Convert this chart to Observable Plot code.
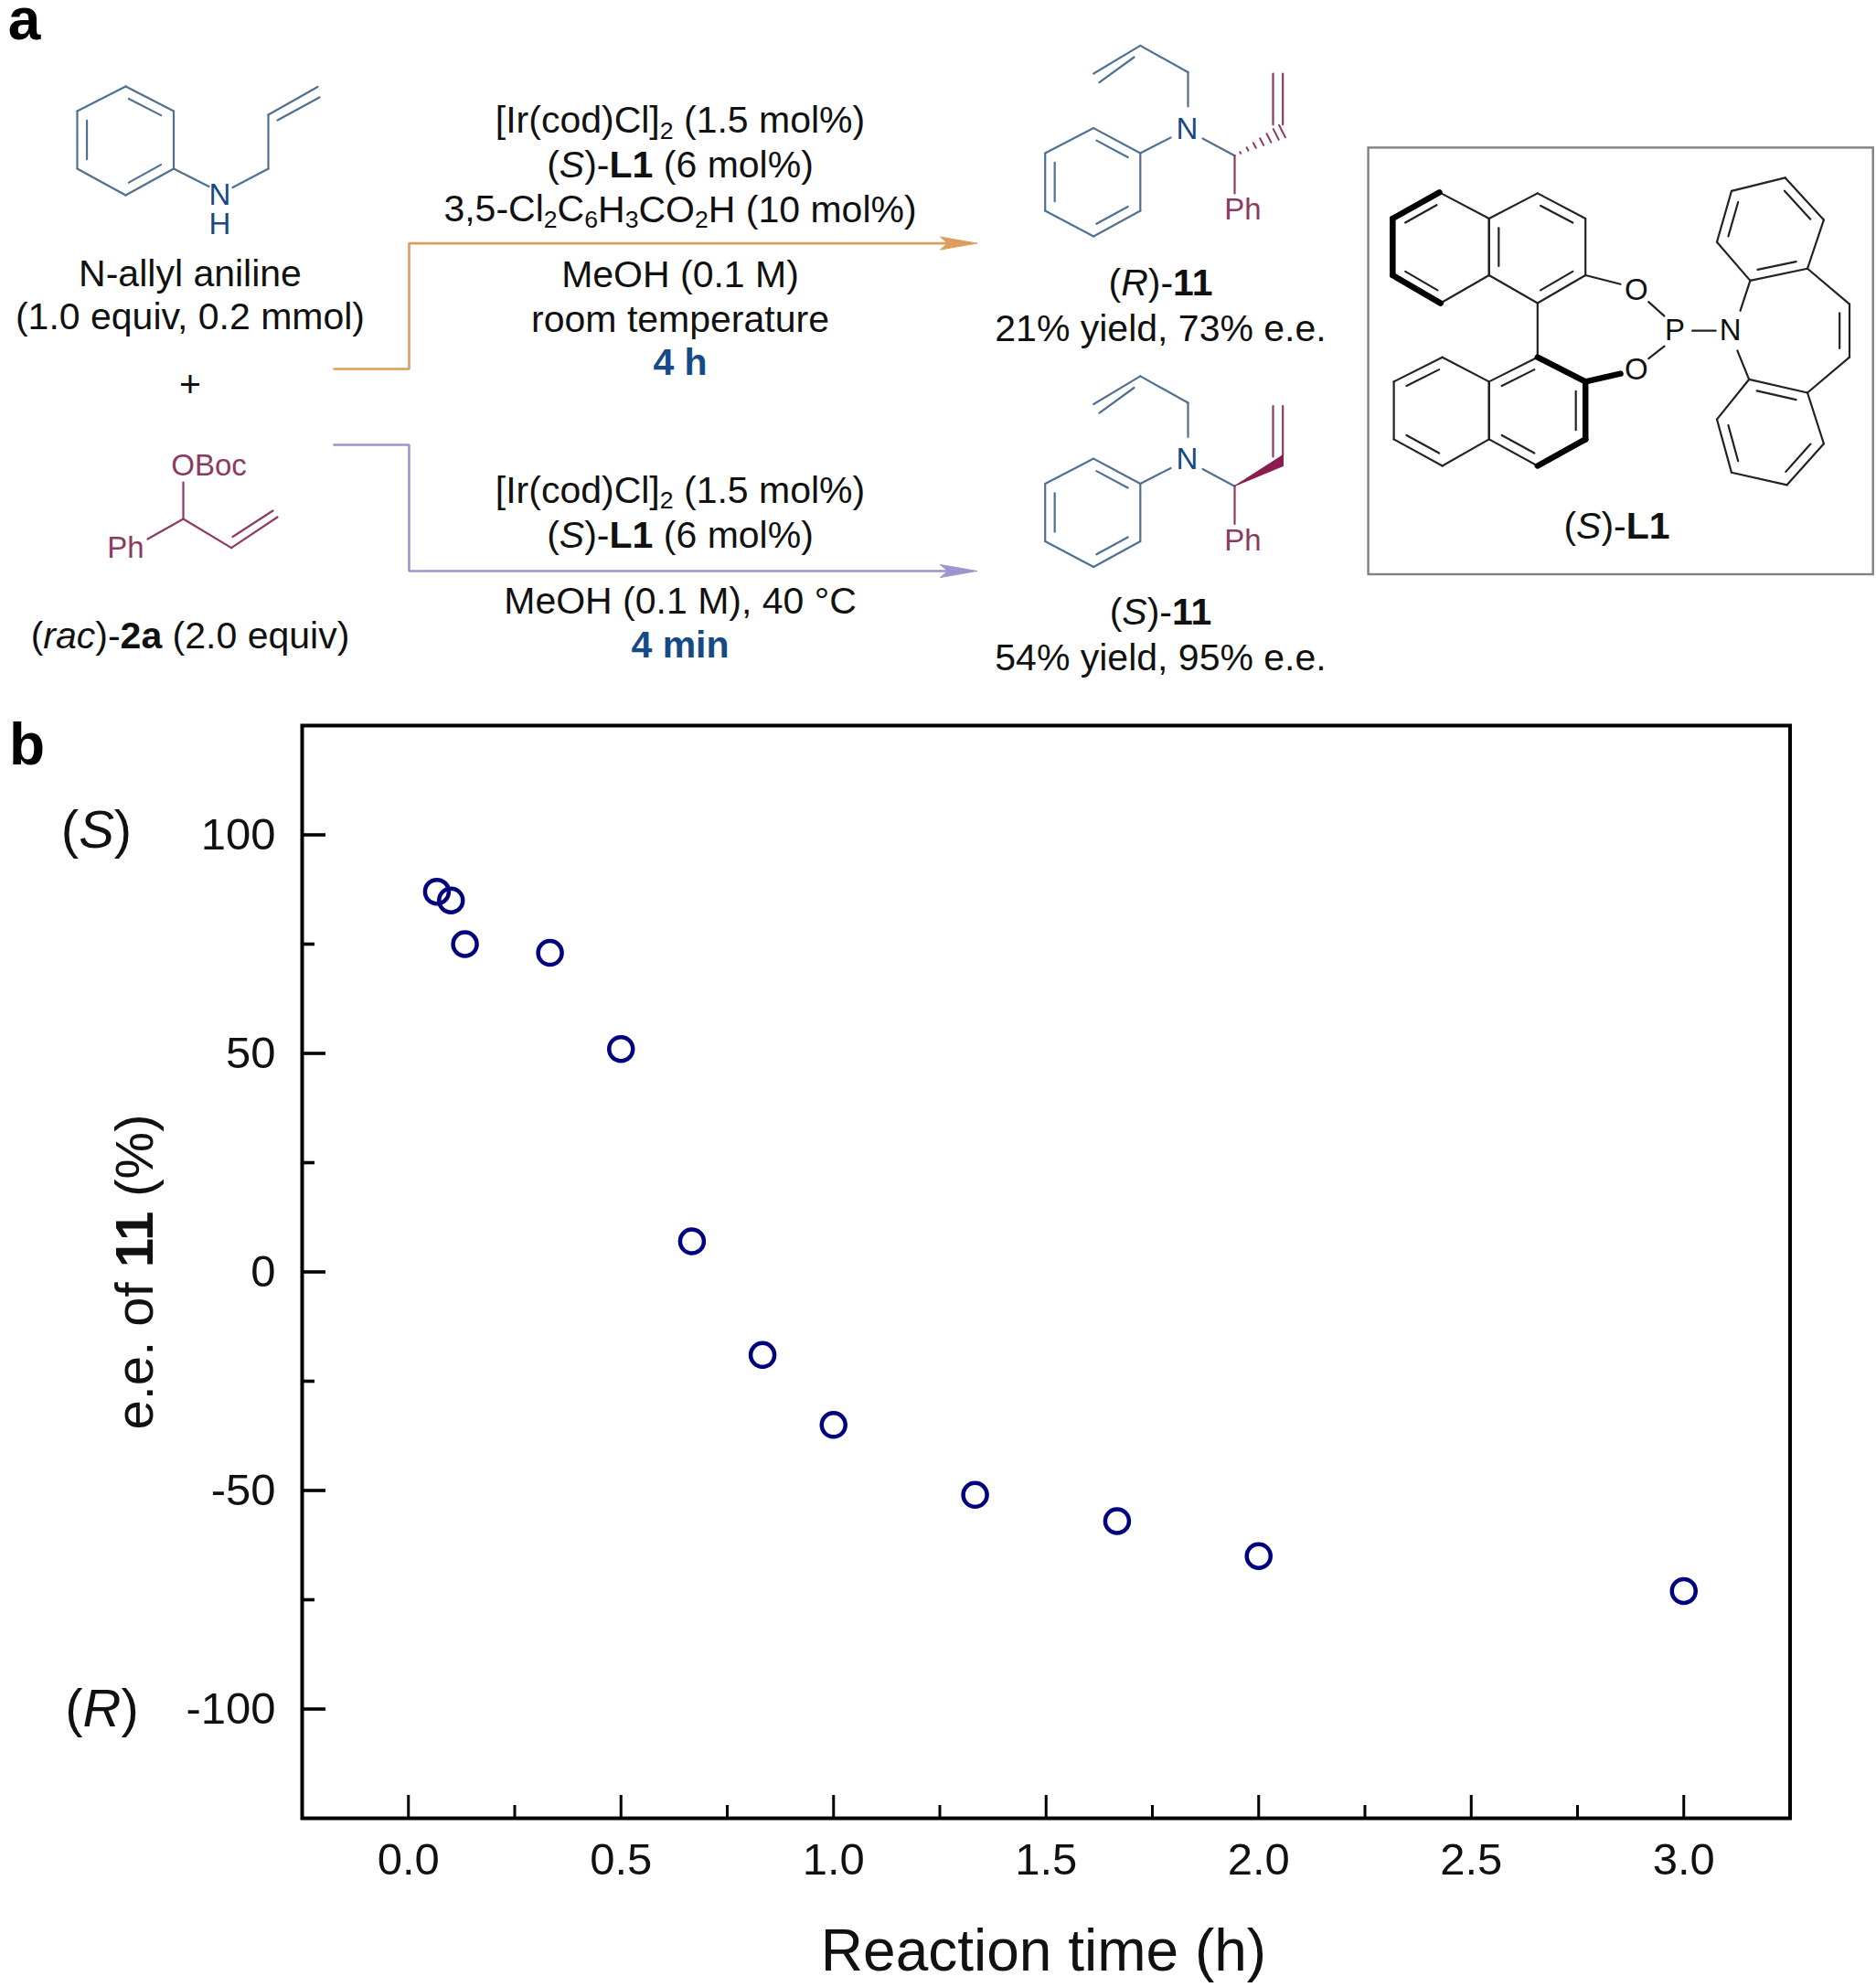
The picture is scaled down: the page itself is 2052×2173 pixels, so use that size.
<!DOCTYPE html>
<html><head><meta charset="utf-8">
<style>html,body{margin:0;padding:0;background:#fff;overflow:hidden}svg{display:block}</style>
<script src="https://cdn.jsdelivr.net/npm/d3@7"></script>
<script src="https://cdn.jsdelivr.net/npm/@observablehq/plot@0.6"></script>
</head><body><div id="chart"></div>
<script>
// ---- panel b data ----
const timeH = [0.067, 0.1, 0.133, 0.333, 0.5, 0.667, 0.833, 1.0, 1.333, 1.667, 2.0, 3.0];
const eePercent = [87, 85, 75, 73, 51, 7, -19, -35, -51, -57, -65, -73];
const xMajor = [0, 0.5, 1, 1.5, 2, 2.5, 3];
const xMinor = [0.25, 0.75, 1.25, 1.75, 2.25, 2.75];
const yMajor = [-100, -50, 0, 50, 100];
const yMinor = [-75, -25, 25, 75];

// ---- panel a text ----
const reagentsTop = ["[Ir(cod)Cl]~2~ (1.5 mol%)", "(*S*)-**L1** (6 mol%)", "3,5-Cl~2~C~6~H~3~CO~2~H (10 mol%)", "MeOH (0.1 M)", "room temperature"];
const reagentsTopY = [131.6, 180, 228.7, 300.7, 349];
const reagentsLow = ["[Ir(cod)Cl]~2~ (1.5 mol%)", "(*S*)-**L1** (6 mol%)", "MeOH (0.1 M), 40 °C"];
const reagentsLowY = [536, 585, 657];
const times = ["4 h", "4 min"];
const timesY = [396, 705];
const substrates = ["N-allyl aniline", "(1.0 equiv, 0.2 mmol)", "+", "(*rac*)-**2a** (2.0 equiv)"];
const substratesY = [299, 346.5, 420, 695.6];
const products = ["(*R*)-**11**", "21% yield, 73% e.e.", "(*S*)-**11**", "54% yield, 95% e.e."];
const productsY = [309, 359, 669, 719];

const font = "Liberation Sans";
const blueBond = "#4f7091", maroon = "#8d3a63", navy = "#164a86", ink = "#111111";

// ---- scheme geometry (pixel space of the scheme panel) ----
const L = (x, y) => [1050 + x / 1.565, y / 2.063];      // structure-drawing space → scheme space
function ring(v, doubles) {
  const c = [d3.mean(v, d => d[0]), d3.mean(v, d => d[1])];
  const out = v.map((p, i) => { const q = v[(i + 1) % v.length]; return [p[0], p[1], q[0], q[1]]; });
  const toC = (p, k) => [p[0] + (c[0] - p[0]) * k, p[1] + (c[1] - p[1]) * k];
  for (const i of doubles) {
    const p = toC(v[i], 0.2), q = toC(v[(i + 1) % v.length], 0.2);
    const a = [p[0] + (q[0] - p[0]) * 0.08, p[1] + (q[1] - p[1]) * 0.08];
    const b = [q[0] + (p[0] - q[0]) * 0.08, q[1] + (p[1] - q[1]) * 0.08];
    out.push([a[0], a[1], b[0], b[1]]);
  }
  return out;
}
const shift = (segs, dy) => segs.map(s => [s[0], s[1] + dy, s[2], s[3] + dy]);

const anilineRing = ring([[137,94],[189.5,121],[189.5,184],[137,213],[84,184],[84,121]], [0,2,4]);
const anilineChain = [[189.5,184,228,203.6],[254,204.5,293,184],[293,184,293,125],[293,125,347,94.5],[303,131,349,106]];
const carbonateChain = [[200,527,200,567],[200,567,161,589],[200,567,252.6,598.6],[252.6,598.6,303,565],[254,586.5,298,558]];

const productBlue = [
  ...ring([[1195.7,139.6],[1246.8,167],[1246.8,230],[1195.7,258],[1142.7,230],[1142.7,167]], [0,2,4]),
  [1246.8,167,1280,150],[1299,116,1299,78.5],[1299,78.5,1246.8,49.4],[1246.8,49.4,1195.7,80],[1240,62,1202,89.7],[1315,151,1350,169.7]
];
const productMaroonR = [[1350,169.7,1350,211],[1392,80,1392,135.7],[1402.7,80,1402.7,135.7]];
// hash bond of (R)-11: short strokes growing from the stereocentre
const hashT = [0.12, 0.27, 0.42, 0.57, 0.72, 0.87, 1.0];
const hash = hashT.map(t => {
  const cx = 1350 + (1402 - 1350) * t, cy = 169.7 + (143 - 169.7) * t, w = 7.5 * t;
  return [cx - w * 0.46, cy - w * 0.89, cx + w * 0.46, cy + w * 0.89];
});
const sDy = 361.5;
const productMaroonS = [[1350,531,1350,572.5],[1392,443.5,1392,499],[1402.7,443.5,1402.7,497]];
const wedgeS = [[1350,531],[1403,497],[1403,509],[1350,531]];

const naphUpperA = [L(820,433),L(905,492),L(905,620),L(822,683),L(740,620),L(740,492)];
const naphUpperB = [L(988,435),L(1070,492),L(1070,620),L(988,683),L(905,620),L(905,492)];
const naphLowerA = [L(988,805),L(1070,860),L(1070,990),L(988,1050),L(905,990),L(905,860)];
const naphLowerB = [L(825,805),L(905,860),L(905,990),L(825,1050),L(742,990),L(742,860)];
const azUpper = [L(1352,632),L(1450,605),L(1478,495),L(1412,400),L(1320,430),L(1295,545)];
const azLower = [L(1350,855),L(1450,885),L(1478,1000),L(1415,1093),L(1320,1065),L(1295,945)];
const seg = (a, b, c, d) => { const p = L(a, b), q = L(c, d); return [p[0], p[1], q[0], q[1]]; };
const ligandThin = [
  ...ring(naphUpperA,[5,3]), ...ring(naphUpperB,[0,2,4]), ...ring(naphLowerA,[5,1,3]), ...ring(naphLowerB,[5,3]),
  ...ring(azUpper,[0,2,4]), ...ring(azLower,[0,2,4]),
  seg(1070,620,1130,640), seg(1178,680,1205,712), seg(1178,808,1205,780), seg(1253,745,1293,745),
  seg(988,683,988,805), seg(1335,700,1352,632), seg(1330,790,1350,855),
  seg(1450,605,1522,685), seg(1522,685,1522,805), seg(1505,705,1505,785), seg(1522,805,1450,885)
];
const ligandThick = [
  seg(820,433,740,492), seg(740,492,740,620), seg(740,620,822,683),
  seg(988,805,1070,860), seg(1070,860,1070,990), seg(1070,990,988,1050), seg(1070,860,1130,842)
];

const routeOrange = [[365,403],[447,403],[447,265.6],[1040,265.6]];
const routePurple = [[365,486],[447,486],[447,624],[1040,624]];
const headOrange = [[1068,265.6],[1028,258.6],[1036,265.6],[1028,272.6],[1068,265.6]];
const headPurple = [[1068,624],[1028,617],[1036,624],[1028,631],[1068,624]];

const links = (data, stroke, strokeWidth = 2.2) => Plot.link(data, {x1: d => d[0], y1: d => d[1], x2: d => d[2], y2: d => d[3], stroke, strokeWidth, strokeLinecap: "round"});
const labels = (strings, xs, ys, fontSize, fill, fontWeight = "normal") => Plot.text(strings, {
  x: (d, i) => Array.isArray(xs) ? xs[i] : xs, y: (d, i) => ys[i], text: d => d, fontSize, fill, fontWeight, fontFamily: font, textAnchor: "middle", lineAnchor: "middle"
});
const polygon = (pts, color) => Plot.line(pts, {x: d => d[0], y: d => d[1], fill: color, stroke: color, strokeWidth: 1, curve: "linear"});
const path = (pts, color) => Plot.line(pts, {x: d => d[0], y: d => d[1], stroke: color, strokeWidth: 2.6, curve: "linear", strokeLinejoin: "miter"});

const scheme = Plot.plot({
  width: 2052, height: 770, margin: 0,
  x: {domain: [0, 2052], range: [0, 2052], axis: null},
  y: {domain: [0, 770], range: [0, 770], axis: null},
  style: {fontFamily: font, background: "#fff"},
  marks: [
    path(routeOrange, "#dd9d5c"), polygon(headOrange, "#dd9d5c"),
    path(routePurple, "#9d96cc"), polygon(headPurple, "#9d96cc"),
    links(anilineRing, blueBond), links(anilineChain, blueBond),
    labels(["N", "H"], 240, [213, 245], 33, navy),
    links(carbonateChain, maroon),
    labels(["OBoc", "Ph"], [228, 137], [509, 598.6], 33, maroon),
    links(productBlue, blueBond), links(productMaroonR, maroon), links(hash, maroon, 2),
    links(shift(productBlue, sDy), blueBond), links(productMaroonS, maroon), polygon(wedgeS, "#8a1c50"),
    labels(["N", "N"], 1298, [140.6, 502], 33, navy),
    labels(["Ph", "Ph"], 1359, [229, 590.5], 33, maroon),
    Plot.rect([0], {x1: 1496.6, x2: 2048.7, y1: 161.4, y2: 628, stroke: "#808080", strokeWidth: 2.4, fill: "none"}),
    links(ligandThin, "#222"), links(ligandThick, "#000", 6.5),
    labels(["O", "O", "P", "N"], [L(1157,0)[0], L(1157,0)[0], L(1223,0)[0], L(1318,0)[0]], [L(0,653)[1], L(0,833)[1], L(0,745)[1], L(0,745)[1]], 33, "#111"),
    labels(["(*S*)-**L1**"], 1768, [575], 41, ink),
    labels(reagentsTop, 743.5, reagentsTopY, 41, ink),
    labels(reagentsLow, 743.5, reagentsLowY, 41, ink),
    labels(times, 743.5, timesY, 41, navy, "bold"),
    labels(substrates, 207.5, substratesY, 41, ink),
    labels(products, 1269, productsY, 41, ink),
    labels(["a"], 26, [22], 64, "#000", "bold")
  ]
});

const chart = Plot.plot({
  width: 2052, height: 1403,
  marginTop: 23, marginBottom: 185, marginLeft: 330, marginRight: 94.5,
  x: {domain: [-0.25, 3.25], label: null},
  y: {domain: [-125, 125], label: null},
  style: {fontFamily: font, background: "#fff"},
  marks: [
    Plot.axisX({ticks: xMajor, tickSize: -25, strokeWidth: 3, stroke: "#000", text: null, label: null}),
    Plot.axisX({ticks: xMinor, tickSize: -14, strokeWidth: 3, stroke: "#000", text: null, label: null}),
    Plot.axisY({ticks: yMajor, tickSize: -26, strokeWidth: 3.6, stroke: "#000", text: null, label: null}),
    Plot.axisY({ticks: yMinor, tickSize: -14, strokeWidth: 3.6, stroke: "#000", text: null, label: null}),
    Plot.axisX({ticks: xMajor, tickSize: 0, tickPadding: 27, fontSize: 49, fill: "#111", tickFormat: d => d.toFixed(1), label: null}),
    Plot.axisY({ticks: yMajor, tickSize: 0, tickPadding: 29, fontSize: 49, fill: "#111", tickFormat: d => String(d), label: null}),
    Plot.frame({stroke: "#000", strokeWidth: 4}),
    Plot.dot(timeH.map((t, i) => ({t, ee: eePercent[i]})), {x: "t", y: "ee", r: 13, stroke: "#000080", strokeWidth: 4.5, fill: "none"}),
    Plot.text(["Reaction time (h)"], {x: 1.494, y: -125, dy: 146, fontSize: 64, fill: "#111", fontFamily: font, lineAnchor: "middle"}),
    Plot.text(["e.e. of **11** (%)"], {x: -0.25, y: 0, dx: -182, rotate: -90, fontSize: 58, fill: "#111", fontFamily: font, lineAnchor: "middle"}),
    Plot.text(["(*S*)"], {x: -0.25, y: 101, dx: -225, fontSize: 58, fill: "#111", fontFamily: font, lineAnchor: "middle"}),
    Plot.text(["(*R*)"], {x: -0.25, y: -100, dx: -219, fontSize: 58, fill: "#111", fontFamily: font, lineAnchor: "middle"}),
    Plot.text(["b"], {x: -0.25, y: 125, dx: -301, dy: 22, fontSize: 64, fontWeight: "bold", fill: "#000", fontFamily: font, lineAnchor: "middle"})
  ]
});

// rich text: **bold**, *italic*, ~subscript~ become real tspans
function richText(svg) {
  const re = /\*\*(.+?)\*\*|\*(.+?)\*|~(.+?)~/g;
  svg.querySelectorAll("text").forEach(t => {
    const holder = t.querySelector("tspan") && t.children.length === 1 && !t.firstChild.nodeValue ? t.querySelector("tspan") : t;
    const s = holder.textContent;
    if (!/[*~]/.test(s)) return;
    holder.textContent = "";
    let last = 0, m, resume = false;
    const add = (txt, attrs) => {
      const n = document.createElementNS("http://www.w3.org/2000/svg", "tspan");
      n.textContent = txt;
      if (resume) { n.setAttribute("dy", attrs.sub ? "0" : "-0.16em"); resume = false; }
      if (attrs.w) n.setAttribute("font-weight", "bold");
      if (attrs.i) n.setAttribute("font-style", "italic");
      if (attrs.sub) { n.setAttribute("font-size", "65%"); n.setAttribute("dy", "0.25em"); resume = true; }
      holder.appendChild(n);
    };
    while ((m = re.exec(s))) {
      if (m.index > last) add(s.slice(last, m.index), {});
      if (m[1]) add(m[1], {w: true}); else if (m[2]) add(m[2], {i: true}); else add(m[3], {sub: true});
      last = re.lastIndex;
    }
    if (last < s.length) add(s.slice(last), {});
  });
}
richText(scheme); richText(chart);
document.getElementById("chart").append(scheme, chart);
</script></body></html>
